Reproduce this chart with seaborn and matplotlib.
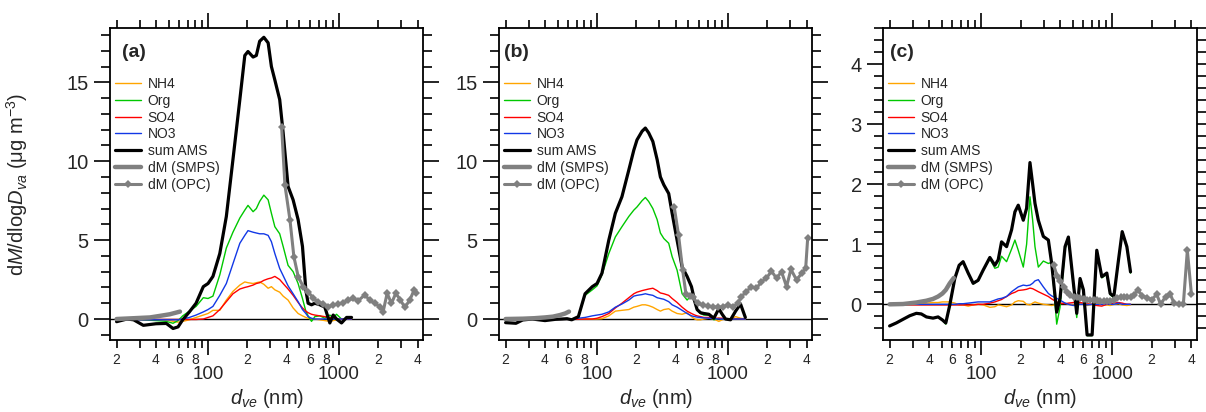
import numpy as np
import matplotlib
matplotlib.use("Agg")
import matplotlib.pyplot as plt
import matplotlib.ticker as mticker
import seaborn as sns

nan = np.nan

# ---------------- data ----------------
# AMS size bins (nm) used for panels (a) and (b)
d_ams_ab = [20, 24, 27, 32, 40, 48, 54, 59, 64, 72, 81, 92, 100, 109, 123, 138, 155, 175,
            191, 202, 221, 234, 248, 267, 288, 305, 324, 353, 375, 409, 447, 488, 527, 559,
            582, 618, 655, 716, 781, 853, 905, 960, 1048, 1146, 1250, 1360]

# panel (a)
nh4_a = [0.0, 0.0, 0.0, -0.05, -0.05, -0.05, -0.15, -0.2, -0.15, -0.05, 0.1, 0.25, 0.35, 0.55,
         0.55, 1.2, 1.75, 2.15, 2.35, 2.3, 2.25, 2.3, 2.35, 2.2, 1.95, 2.05, 1.85, 1.7, 1.45,
         1.2, 0.7, 0.35, 0.2, 0.1, 0.05, 0.0, 0.0, -0.05, -0.1, -0.15, -0.1, -0.05, 0.0, 0.0,
         0.0, nan]
org_a = [0.0, 0.05, 0.0, -0.05, -0.1, -0.15, -0.27, -0.1, 0.2, 0.5, 0.8, 1.35, 1.3, 1.45, 2.8,
         4.5, 5.5, 6.4, 6.9, 7.2, 6.8, 7.0, 7.45, 7.85, 7.55, 6.7, 5.85, 5.4, 4.6, 3.4, 3.0,
         2.25, 1.3, 0.5, 0.2, -0.15, 0.15, 0.2, 0.05, 0.25, 0.1, 0.3, 0.0, 0.05, 0.05, nan]
so4_a = [-0.03, -0.03, -0.03, -0.03, -0.03, -0.03, -0.03, -0.03, -0.03, -0.03, -0.03, 0.0,
         0.1, 0.2, 0.6, 1.1, 1.6, 1.9, 2.0, 2.05, 2.15, 2.25, 2.3, 2.45, 2.55, 2.6, 2.7, 2.5,
         2.25, 1.9, 1.5, 1.05, 0.7, 0.5, 0.4, 0.3, 0.25, 0.2, 0.15, 0.1, 0.05, 0.0, 0.0, 0.0,
         0.0, nan]
no3_a = [-0.05, -0.05, -0.05, -0.05, -0.05, -0.05, -0.05, -0.05, 0.0, 0.1, 0.25, 0.45, 0.6,
         0.8, 1.5, 2.25, 3.5, 4.8, 5.3, 5.6, 5.5, 5.45, 5.4, 5.4, 5.3, 4.9, 4.15, 3.2, 2.75,
         2.1, 1.6, 1.1, 0.6, 0.35, 0.15, 0.05, 0.0, 0.0, 0.0, 0.0, 0.0, 0.0, 0.0, 0.0, 0.0, nan]
sum_a = [-0.17, 0.0, -0.05, -0.4, -0.3, -0.28, -0.6, -0.5, -0.05, 0.45, 1.0, 2.05, 2.25, 2.7,
         4.15, 6.5, 10.1, 13.9, 16.7, 16.95, 16.6, 16.7, 17.6, 17.85, 17.5, 16.0, 15.15, 13.9,
         11.8, 8.4, 7.55, 6.3, 4.6, 1.85, 1.0, 0.9, 1.0, 0.9, 0.75, -0.25, 0.25, 0.0, -0.25,
         0.1, 0.1, nan]
smps_d_a = [20, 27, 36, 43, 51, 61]
smps_a = [0.0, 0.05, 0.1, 0.2, 0.3, 0.47]
opc_d_a = [365, 387, 423, 453, 489, 534, 583, 637, 695, 759, 828, 905, 988, 1079, 1178, 1286,
           1404, 1578, 1724, 1883, 2056, 2179, 2339, 2525, 2723, 2958, 3192, 3487, 3758, 3919]
opc_a = [12.19, 8.49, 6.27, 3.95, 2.68, 2.05, 1.73, 1.31, 1.10, 0.95, 0.78, 0.89, 0.95, 1.03,
         1.20, 1.31, 1.16, 1.52, 1.20, 0.99, 0.78, 0.46, 1.63, 0.99, 1.63, 1.20, 0.74, 1.20,
         1.84, 1.63]

# panel (b)
nh4_b = [0.0, 0.0, 0.0, 0.0, 0.0, 0.0, 0.0, 0.0, 0.0, 0.0, 0.0, 0.0, 0.0, 0.02, 0.2, 0.5,
         0.55, 0.6, 0.75, 0.8, 0.9, 0.9, 0.85, 0.75, 0.6, 0.5, 0.6, 0.65, 0.5, 0.35, 0.3, 0.4,
         0.15, 0.0, -0.05, -0.05, 0.0, 0.05, 0.0, -0.15, -0.05, 0.0, 0.0, 0.15, 0.05, 0.0]
org_b = [-0.1, -0.05, -0.02, 0.0, -0.02, -0.02, 0.0, 0.0, -0.02, 0.15, 1.5, 1.85, 2.1, 2.8,
         4.15, 5.2, 5.85, 6.5, 6.9, 7.1, 7.5, 7.7, 7.45, 7.0, 6.3, 5.45, 5.1, 4.8, 3.95, 3.1,
         1.6, 1.2, 1.5, 1.1, 0.55, 0.35, 0.25, 0.25, -0.05, 0.05, 0.0, 0.0, 0.0, 0.0, 0.0, 0.0]
so4_b = [-0.02, -0.02, -0.02, -0.02, -0.02, -0.02, -0.02, -0.02, -0.02, -0.02, 0.0, 0.0, 0.05,
         0.15, 0.35, 0.7, 1.0, 1.35, 1.6, 1.7, 1.8, 1.85, 1.9, 1.95, 1.8, 1.65, 1.6, 1.5, 1.3,
         1.05, 0.75, 0.5, 0.35, 0.25, 0.2, 0.15, 0.1, 0.1, 0.05, 0.05, 0.05, 0.02, 0.0, 0.0,
         0.0, 0.0]
no3_b = [-0.02, -0.02, -0.02, -0.02, -0.02, -0.02, -0.02, -0.02, 0.0, 0.05, 0.1, 0.2, 0.25,
         0.3, 0.45, 0.75, 0.95, 1.2, 1.45, 1.5, 1.55, 1.6, 1.55, 1.5, 1.35, 1.3, 1.25, 1.1, 0.9,
         0.75, 0.55, 0.35, 0.2, 0.15, 0.12, 0.1, 0.07, 0.05, 0.03, 0.0, 0.0, 0.0, -0.02, 0.0,
         0.0, 0.0]
sum_b = [-0.23, -0.27, -0.06, 0.0, -0.1, -0.02, 0.0, 0.02, -0.05, 0.15, 1.6, 2.05, 2.25, 2.9,
         5.0, 6.7, 7.75, 9.45, 10.7, 11.35, 11.9, 12.1, 11.8, 11.25, 10.1, 9.0, 8.5, 7.95, 6.7,
         5.0, 3.3, 2.7, 2.05, 1.1, 0.6, 0.4, 0.35, 0.3, 0.05, 0.65, 0.3, 0.0, -0.05, 0.5, 0.95,
         0.1]
smps_d_b = [20, 27, 33, 40, 46, 52, 57, 61]
smps_b = [0.0, 0.02, 0.05, 0.1, 0.15, 0.25, 0.35, 0.47]
opc_d_b = [389, 420, 451, 478, 510, 538, 588, 642, 702, 767, 838, 915, 1000, 1092, 1194, 1265,
           1383, 1511, 1651, 1804, 1971, 2154, 2354, 2572, 2810, 3034, 3352, 3662, 3933, 4074]
opc_b = [7.1, 5.3, 3.1, 1.6, 1.45, 1.4, 0.99, 0.89, 0.82, 0.78, 0.74, 0.78, 0.89, 0.78, 0.99,
         1.41, 1.73, 2.05, 1.94, 2.36, 2.58, 3.04, 2.58, 3.0, 2.05, 3.15, 2.47, 2.9, 3.21, 5.11]

# panel (c): AMS size bins (nm)
d_ams_c = [20.0, 22.5, 25.3, 28.5, 32.0, 34.9, 38.2, 42.9, 46.9, 50.6, 53.7, 57.6, 62.9, 67.9,
           72.8, 79.6, 86.9, 94.8, 103.6, 116.5, 127.2, 134.9, 143.1, 156.3, 170.7, 181.0,
           191.9, 209.7, 222.3, 235.8, 247.2, 257.5, 273.1, 298.3, 325.8, 345.4, 377.3, 400.0,
           436.9, 463.3, 505.9, 536.6, 569.0, 603.4, 643.8, 703.0, 763.1, 833.6, 910.5, 965.4,
           1030, 1118, 1193, 1295, 1381]
nh4_c = [0.0, 0.0, 0.0, 0.0, 0.01, 0.01, 0.02, 0.03, 0.03, 0.04, 0.04, 0.04, 0.02, -0.01,
         -0.01, -0.03, -0.01, 0.0, -0.01, -0.05, -0.04, -0.01, -0.02, -0.04, -0.01, 0.04, 0.06,
         0.05, 0.0, -0.01, 0.02, 0.04, 0.02, 0.0, -0.01, -0.02, 0.0, 0.01, 0.02, 0.0, -0.01,
         0.0, 0.02, 0.0, -0.02, 0.0, 0.02, 0.0, -0.01, -0.02, 0.0, 0.01, -0.01, -0.02, -0.01]
org_c = [-0.36, -0.31, -0.25, -0.19, -0.15, -0.16, -0.21, -0.23, -0.21, -0.26, -0.33, -0.03,
         0.42, 0.64, 0.7, 0.51, 0.34, 0.39, 0.56, 0.76, 0.6, 0.62, 0.8, 0.71, 0.92, 1.07, 0.9,
         0.62, 1.0, 1.79, 1.4, 0.96, 0.62, 0.72, 0.68, 0.7, -0.33, -0.05, 0.92, 1.08, 0.3,
         -0.22, 0.4, 0.2, -0.52, -0.52, 0.88, 0.44, 0.5, 0.16, 0.11, 0.72, 1.19, 0.94, 0.52]
so4_c = [-0.01, -0.01, -0.01, -0.01, -0.01, -0.01, -0.01, -0.01, -0.01, -0.01, -0.01, -0.01,
         -0.01, -0.01, -0.01, -0.01, -0.01, 0.0, 0.0, 0.02, 0.04, 0.06, 0.08, 0.13, 0.18, 0.2,
         0.23, 0.24, 0.25, 0.27, 0.26, 0.24, 0.21, 0.17, 0.13, 0.09, 0.04, 0.02, 0.01, 0.02,
         0.03, 0.04, 0.03, 0.02, 0.01, 0.0, -0.02, -0.03, 0.0, 0.01, 0.02, 0.03, 0.02, 0.0, 0.0]
no3_c = [0.0, 0.0, 0.0, 0.0, 0.0, 0.0, 0.0, 0.0, 0.0, 0.0, 0.0, 0.0, 0.0, 0.01, 0.01, 0.02,
         0.03, 0.04, 0.04, 0.04, 0.07, 0.09, 0.1, 0.13, 0.21, 0.25, 0.29, 0.32, 0.31, 0.32,
         0.35, 0.39, 0.41, 0.29, 0.18, 0.14, 0.1, 0.07, 0.02, 0.0, -0.02, 0.0, 0.0, 0.0, -0.01,
         0.0, 0.0, 0.0, 0.01, 0.0, 0.0, 0.02, 0.0, 0.0, 0.0]
sum_c = [-0.36, -0.31, -0.25, -0.19, -0.15, -0.16, -0.21, -0.23, -0.21, -0.26, -0.31, -0.01,
         0.43, 0.65, 0.71, 0.52, 0.35, 0.40, 0.57, 0.78, 0.65, 0.74, 1.04, 0.96, 1.24, 1.54,
         1.65, 1.40, 1.60, 2.36, 2.0, 1.68, 1.40, 1.13, 1.07, 0.68, -0.13, 0.10, 0.96, 1.12,
         0.35, -0.15, 0.43, 0.24, -0.51, -0.51, 0.90, 0.46, 0.52, 0.18, 0.13, 0.74, 1.21, 0.96,
         0.54]
smps_d_c = [20.0, 25.3, 32.0, 38.2, 42.9, 46.9, 50.6, 53.7, 57.6, 61.8]
smps_c = [0.0, 0.005, 0.03, 0.06, 0.09, 0.13, 0.18, 0.24, 0.35, 0.44]
opc_d_c = [358, 380, 402, 427, 453, 480, 509, 540, 572, 607, 644, 683, 724, 768, 814, 864, 916,
           971, 1030, 1092, 1158, 1228, 1302, 1381, 1465, 1572, 1697, 1853, 2024, 2184, 2344,
           2560, 2763, 2965, 3237, 3495, 3750, 4023]
opc_c = [0.65, 0.47, 0.38, 0.29, 0.21, 0.16, 0.13, 0.12, 0.10, 0.09, 0.08, 0.07, 0.08, 0.07,
         0.06, 0.05, 0.06, 0.06, 0.08, 0.10, 0.13, 0.13, 0.13, 0.13, 0.16, 0.24, 0.14, 0.11,
         0.08, 0.17, 0.0, 0.13, 0.18, 0.02, 0.0, 0.0, 0.9, 0.18]

panel_labels = ["(a)", "(b)", "(c)"]
legend_labels = ["NH4", "Org", "SO4", "NO3", "sum AMS", "dM (SMPS)", "dM (OPC)"]
x_label = "$d_{ve}$ (nm)"
y_label = "d$M$/dlog$D_{va}$ (\u03bcg m$^{-3}$)"

# ---------------- style ----------------
sns.set_style("ticks")
plt.rcParams["font.family"] = ["Liberation Sans", "DejaVu Sans"]
plt.rcParams["mathtext.fontset"] = "custom"
plt.rcParams["mathtext.rm"] = "Liberation Sans"
plt.rcParams["mathtext.it"] = "Liberation Sans:italic"
plt.rcParams["mathtext.bf"] = "Liberation Sans:bold"
plt.rcParams["axes.linewidth"] = 1.3

C_NH4 = "#ffa500"
C_ORG = "#00c800"
C_SO4 = "#ff0000"
C_NO3 = "#1238e6"
C_SUM = "#000000"
C_GRAY = "#808080"

panels = [
    dict(d=d_ams_ab, nh4=nh4_a, org=org_a, so4=so4_a, no3=no3_a, tot=sum_a,
         sd=smps_d_a, s=smps_a, od=opc_d_a, o=opc_a,
         ylim=(-1.33, 18.44), major=5, minor=1, left=110.3, width=313.0, lx=0.036),
    dict(d=d_ams_ab, nh4=nh4_b, org=org_b, so4=so4_b, no3=no3_b, tot=sum_b,
         sd=smps_d_b, s=smps_b, od=opc_d_b, o=opc_b,
         ylim=(-1.33, 18.44), major=5, minor=1, left=499.3, width=313.0, lx=0.015),
    dict(d=d_ams_c, nh4=nh4_c, org=org_c, so4=so4_c, no3=no3_c, tot=sum_c,
         sd=smps_d_c, s=smps_c, od=opc_d_c, o=opc_c,
         ylim=(-0.594, 4.6), major=1, minor=0.2, left=883.3, width=313.4, lx=0.02),
]

W, H = 1206, 412
fig = plt.figure(figsize=(W / 100, H / 100), dpi=100)


def minor_fmt(x, pos):
    e = np.floor(np.log10(x) + 1e-9)
    m = int(round(x / 10 ** e))
    return str(m) if m in (2, 4, 6, 8) else ""


for i, p in enumerate(panels):
    ax = fig.add_axes([p["left"] / W, 72 / H, p["width"] / W, 312 / H])
    ax.set_xscale("log")
    ax.axhline(0, color="black", lw=1.0, zorder=1)

    specs = [("nh4", C_NH4, 1.0), ("org", C_ORG, 1.0), ("so4", C_SO4, 1.0),
             ("no3", C_NO3, 1.0), ("tot", C_SUM, 2.3)]
    for (key, col, lw), lab in zip(specs, legend_labels[:5]):
        sns.lineplot(x=p["d"], y=p[key], ax=ax, color=col, lw=lw, label=lab,
                     estimator=None, sort=False, legend=False)
    sns.lineplot(x=p["sd"], y=p["s"], ax=ax, color=C_GRAY, lw=3.2, label=legend_labels[5],
                 estimator=None, sort=False, legend=False)
    sns.lineplot(x=p["od"], y=p["o"], ax=ax, color=C_GRAY, lw=2.2, marker="D", markersize=3.6,
                 markeredgewidth=0, label=legend_labels[6], estimator=None, sort=False,
                 legend=False)

    ax.set_xlim(17.9, 4420)
    ax.set_ylim(*p["ylim"])

    ax.xaxis.set_major_locator(mticker.LogLocator(base=10, numticks=10))
    ax.xaxis.set_minor_locator(mticker.LogLocator(base=10, subs=np.arange(2, 10), numticks=30))
    ax.xaxis.set_major_formatter(mticker.FuncFormatter(lambda x, pos: f"{x:g}"))
    ax.xaxis.set_minor_formatter(mticker.FuncFormatter(minor_fmt))
    ax.yaxis.set_major_locator(mticker.MultipleLocator(p["major"]))
    ax.yaxis.set_minor_locator(mticker.MultipleLocator(p["minor"]))
    ax.yaxis.set_major_formatter(mticker.FuncFormatter(lambda y, pos: f"{y:g}"))

    ax.tick_params(axis="both", which="both", direction="out", top=True, right=True,
                   labeltop=False, labelright=False, width=1.2, color="black")
    ax.tick_params(axis="x", which="major", length=11, pad=8, labelsize=13.5)
    ax.tick_params(axis="x", which="minor", length=5.5, pad=3.5, labelsize=10)
    ax.tick_params(axis="y", which="major", length=11.5, pad=4, labelsize=14.5)
    ax.tick_params(axis="y", which="minor", length=6.5)
    for s in ax.spines.values():
        s.set_visible(True)
        s.set_linewidth(1.3)
        s.set_color("black")

    ax.set_xlabel(x_label, fontsize=14.5)
    ax.xaxis.set_label_coords(0.5, -0.15)
    if i == 0:
        ax.set_ylabel(y_label, fontsize=14.5)
        ax.yaxis.set_label_coords(-0.255, 0.5)
    else:
        ax.set_ylabel("")

    ax.text(p["lx"], 0.92, panel_labels[i], transform=ax.transAxes, ha="left", va="center",
            fontsize=14, fontweight="bold")

    handles, labels = ax.get_legend_handles_labels()
    ax.legend(handles, labels, loc="upper left", bbox_to_anchor=(0.015, 0.843),
              frameon=False, fontsize=10, handlelength=1.9, handletextpad=0.45,
              labelspacing=0.2, borderpad=0, borderaxespad=0, numpoints=1)

fig.savefig("out.png", dpi=100)
